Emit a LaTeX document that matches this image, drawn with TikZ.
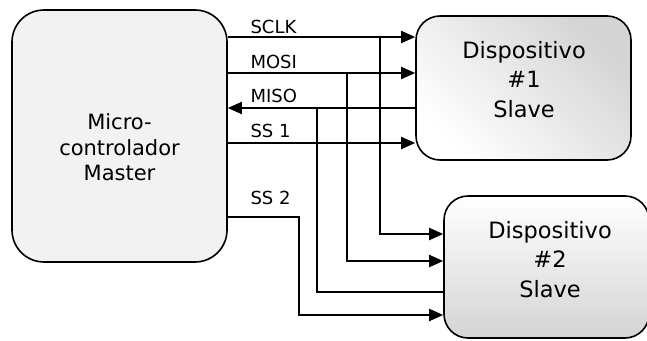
\documentclass[tikz,border=0pt]{standalone}
\usepackage{fontspec}
\setmainfont{DejaVu Sans}
\usetikzlibrary{arrows.meta}
\definecolor{masterfill}{HTML}{F2F2F2}
\definecolor{slavegray}{HTML}{D4D4D4}
\begin{document}
\begin{tikzpicture}[x=1pt,y=-1pt,
  box/.style={draw=black,line width=1.6pt,inner sep=0pt},
  wire/.style={line width=1.9pt},
  tip/.style={-{Triangle[length=14pt,width=12pt]}},
  sig/.style={anchor=base west,font=\fontsize{18}{21}\selectfont},
  boxtext/.style={align=center,font=\fontsize{21}{25.5}\selectfont}]
\useasboundingbox (0,0) rectangle (647,340);
\begin{scope}
\clip (0,0) rectangle (647,340);
% Master and the two slave devices
\node[box,fill=masterfill,rounded corners=32pt,minimum width=215pt,minimum height=252pt]
  (master) at (119.5,136) {};
\node[box,rounded corners=24pt,minimum width=215pt,minimum height=144pt,
  shading=axis,top color=slavegray,bottom color=white,shading angle=-45]
  (s1) at (523.5,88) {};
\node[box,rounded corners=24pt,minimum width=205pt,minimum height=142pt,
  top color=white,bottom color=slavegray]
  (s2) at (546.5,267) {};
\end{scope}
\node[boxtext] (mtext) at (119.5,147.5) {Micro-\\controlador\\Master};
\node[boxtext,font=\fontsize{22.5}{29.5}\selectfont] (s1text) at (524,79.5) {Dispositivo\\\#1\\Slave};
\node[boxtext,font=\fontsize{22.5}{29.5}\selectfont] (s2text) at (550,259.5) {Dispositivo\\\#2\\Slave};

% signal levels
\coordinate (ysclk) at (0,37);
\coordinate (ymosi) at (0,73);
\coordinate (ymiso) at (0,108);
\coordinate (yssa) at (0,143);
\coordinate (yssb) at (0,217);
\coordinate (zsclk) at (380,234);
\coordinate (zmosi) at (347,261);
\coordinate (zmiso) at (317,292);
\coordinate (zssb) at (299,315);

% bus to slave 1
\draw[wire,tip] (master.east |- ysclk) -- (s1.west |- ysclk);
\draw[wire,tip] (master.east |- ymosi) -- (s1.west |- ymosi);
\draw[wire,tip] (s1.west |- ymiso) -- (master.east |- ymiso);
\draw[wire,tip] (master.east |- yssa) -- (s1.west |- yssa);

% branches to slave 2
\draw[wire,tip] (zsclk |- ysclk) -- (zsclk) -- (s2.west |- zsclk);
\draw[wire,tip] (zmosi |- ymosi) -- (zmosi) -- (s2.west |- zmosi);
\draw[wire] (s2.west |- zmiso) -- (zmiso) -- (zmiso |- ymiso);
\draw[wire,tip] (master.east |- yssb) -- (zssb |- yssb) -- (zssb) -- (s2.west |- zssb);

% signal names
\node[sig] (lsclk) at (247,33) {SCLK};
\node[sig] (lmosi) at (247,68) {MOSI};
\node[sig] (lmiso) at (247,102) {MISO};
\node[sig] (lssa) at (247,137) {SS 1};
\node[sig] (lssb) at (247,204) {SS 2};
\end{tikzpicture}
\end{document}
